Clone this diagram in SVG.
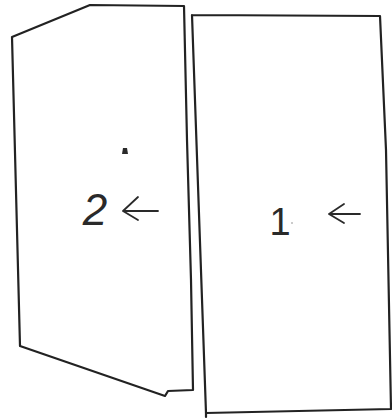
<svg xmlns="http://www.w3.org/2000/svg" width="392" height="419" viewBox="0 0 392 419">
<style>
.edge{fill:none;stroke:#222;stroke-width:2.2;stroke-linejoin:round;stroke-linecap:round}
.lbl{font-family:"Liberation Sans",Arial,sans-serif;fill:#2a2a2a;text-anchor:middle}
.arr{fill:none;stroke:#2a2a2a;stroke-width:1.8;stroke-linecap:round;stroke-linejoin:round}
</style>
<rect width="392" height="419" fill="#fff"/>
<g id="panel2">
<path class="edge" d="M12,37 L90,5 L184,6 L187,140 L191,280 L193,390 L168,391 L165,396 L20,346 L12,37"/>
<text class="lbl" x="95" y="225" font-size="44" font-style="italic">2</text>
<path d="M123,148 L127,148 L128,154 L122,154 Z" fill="#2a2a2a"/>
</g>
<g id="panel1">
<path class="edge" d="M192,15 L380,16 L386,150 L391,409 L206,413 L192,15"/>
<path class="edge" d="M206,413 L206,417"/>
<text class="lbl" x="280" y="235" font-size="38">1</text>
<circle cx="292" cy="223" r="0.8" fill="#888"/>
</g>
<g id="connectors">
<path class="arr" d="M158,211 L123,211 M138,197 L123,211 L138,220"/>
<path class="arr" d="M360,214 L329,214 M344,204 L329,214 L344,223"/>
</g>
</svg>
